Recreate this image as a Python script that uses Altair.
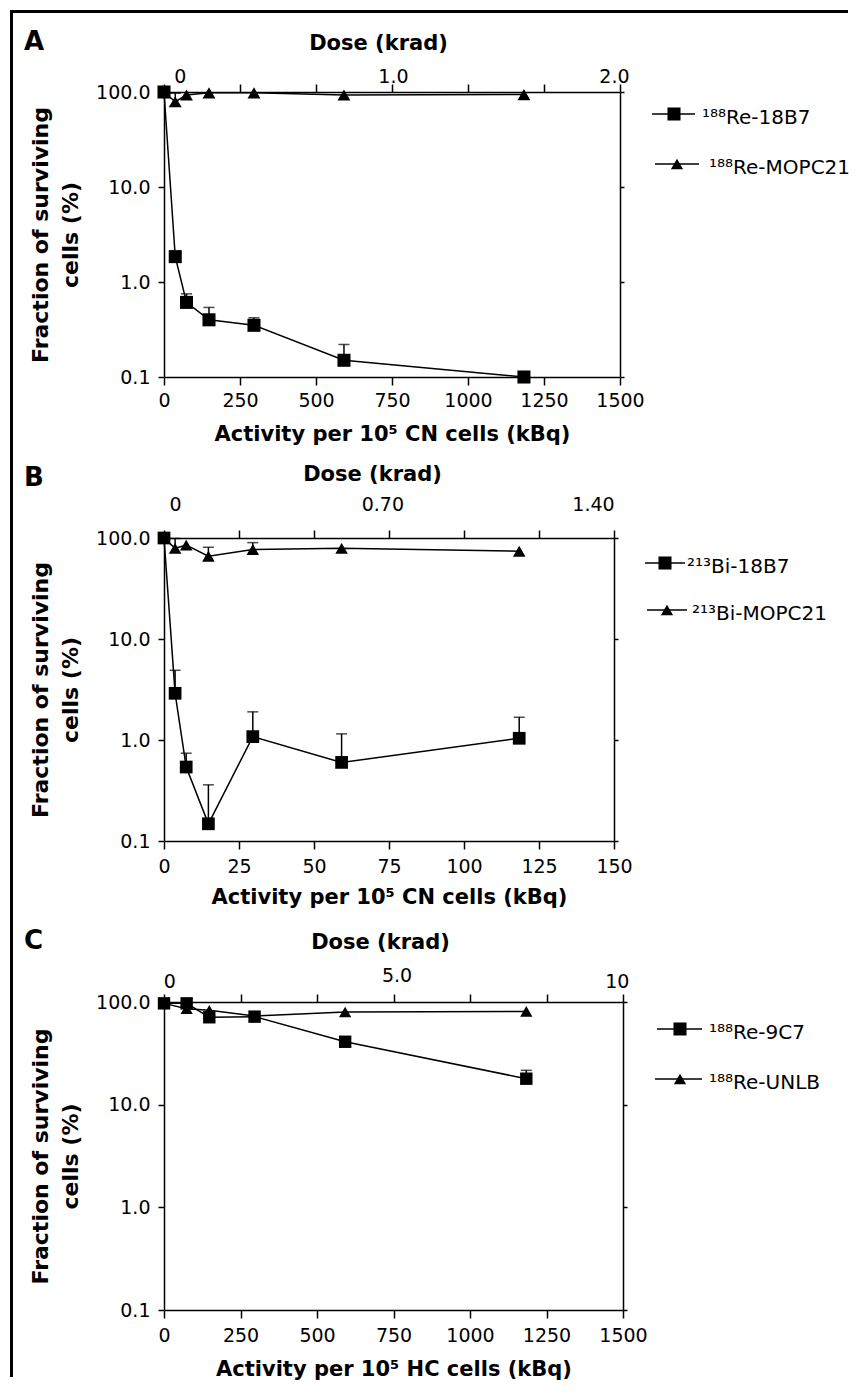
import json
import altair as alt
import pandas as pd

FONT = "DejaVu Sans"

# ---------------- data ----------------
Y_ticks = [0.1, 1, 10, 100]
Y_title = ["Fraction of surviving", "cells (%)"]
Dose_title = "Dose (krad)"

# Panel A
A_names = ["¹⁸⁸Re-18B7", "¹⁸⁸Re-MOPC21"]
A_x = [0, 37, 74, 148, 296, 592, 1184]
A_sq = [100, 1.85, 0.61, 0.40, 0.35, 0.15, 0.10]
A_sq_err = [None, None, 0.75, 0.54, 0.42, 0.22, None]
A_tri = [100, 79, 93, 98, 98, 93, 94]
A_tri_err = [None, 97, None, None, None, None, None]
A_xticks = [0, 250, 500, 750, 1000, 1250, 1500]
A_dose_pos = [52, 753, 1480]
A_dose_lab = ["0", "1.0", "2.0"]
A_xtitle = "Activity per 10⁵ CN cells (kBq)"

# Panel B
B_names = ["²¹³Bi-18B7", "²¹³Bi-MOPC21"]
B_x = [0, 3.7, 7.4, 14.8, 29.6, 59.2, 118.4]
B_sq = [100, 2.9, 0.54, 0.148, 1.08, 0.60, 1.04]
B_sq_err = [None, 4.9, 0.74, 0.36, 1.9, 1.15, 1.68]
B_tri = [100, 79, 85, 66, 77, 79, 74]
B_tri_err = [None, 99, None, 81, 90, None, None]
B_xticks = [0, 25, 50, 75, 100, 125, 150]
B_dose_pos = [3.7, 72.8, 143]
B_dose_lab = ["0", "0.70", "1.40"]
B_xtitle = "Activity per 10⁵ CN cells (kBq)"

# Panel C
C_names = ["¹⁸⁸Re-9C7", "¹⁸⁸Re-UNLB"]
C_x = [0, 74, 148, 296, 592, 1184]
C_sq = [97, 97, 71, 72, 41, 17.9]
C_sq_err = [None, None, None, None, None, 21.6]
C_tri = [97, 86, 83, 73, 80, 81]
C_tri_err = [None, None, None, None, None, None]
C_xticks = [0, 250, 500, 750, 1000, 1250, 1500]
C_dose_pos = [17, 760, 1480]
C_dose_lab = ["0", "5.0", "10"]
C_xtitle = "Activity per 10⁵ HC cells (kBq)"

# ---------------- layout (page pixels) ----------------
FX = 9.5    # left frame line
FY = 9.5    # top frame line
RIGHT = 846
L = 162     # common plot left edge
SPACING = 161

LAYOUT = {
    "A": dict(P=90, W=456, H=285, row=(8.0, 470), tpad=2, tty=-43, ttx=214,
              bpad=6, bty=63, letter=(22, 48),
              leg_y=[22, 72], leg_x=[(488, 531, 510, 538), (491, 535, 513, 545)], top=True),
    "B": dict(P=536, W=450, H=303, row=(440, 930), tpad=20, tty=-58, ttx=208,
              bpad=8, bty=62, letter=(22, 484),
              leg_y=[25, 72], leg_x=[(481, 521, 501, 523), (483, 523, 503, 528)], top=False),
    "C": dict(P=1000, W=459, H=308, row=(910, 1375), tpad=7, tty=-54, ttx=216,
              bpad=8, bty=65, letter=(22, 947),
              leg_y=[27, 77], leg_x=[(493, 538, 516, 545), (491, 538, 516, 545)], top=False),
}

SHAPES = ["square", "triangle-up"]
SIZES = [170, 150]


def make_panel(letter, names, xs, sq, sq_err, tri, tri_err, xmax, xticks,
               dose_pos, dose_lab, xtitle, raised=None):
    lay = LAYOUT[letter]
    P, W, H = lay["P"], lay["W"], lay["H"]
    rows = []
    for name, ys, errs in ((names[0], sq, sq_err), (names[1], tri, tri_err)):
        for x, y, e in zip(xs, ys, errs):
            rows.append({"series": name, "x": x, "y": y, "upper": e})
    df = pd.DataFrame(rows)
    err_df = df.dropna(subset=["upper"]).reset_index(drop=True)

    xsc = alt.Scale(domain=[0, xmax], nice=False, zero=False)
    ysc = alt.Scale(type="log", domain=[0.1, 100], nice=False)

    common = dict(grid=False, domainColor="black", domainWidth=1.5,
                  tickColor="black", tickWidth=1.5, labelColor="black",
                  labelFont=FONT, labelFontSize=19, titleFont=FONT,
                  titleColor="black", titleFontWeight="bold",
                  labelFlush=False, labelOverlap=False)

    bottom = alt.Axis(orient="bottom", values=xticks, format="d", title=xtitle,
                      tickSize=8, labelPadding=lay["bpad"], titleFontSize=21,
                      titleY=lay["bty"], titleBaseline="alphabetic", **common)
    left = alt.Axis(orient="left", values=Y_ticks, format=".1f", title=Y_title,
                    tickSize=6, labelPadding=8, titleFontSize=22,
                    titleAngle=270, titleX=FX + 18.5 - L, titleY=H / 2,
                    titleBaseline="top", titleAlign="center",
                    titleLineHeight=30, **common)
    lab_expr = "".join(f"datum.value == {p} ? '{t}' : " for p, t in zip(dose_pos, dose_lab)) + "''"
    if raised is None:
        tpad = lay["tpad"]
    else:
        tpad = {"condition": {"test": f"datum.value == {raised}", "value": lay["tpad"] + 6},
                "value": lay["tpad"]}
    top = alt.Axis(orient="top", values=list(xticks) + list(dose_pos),
                   labelExpr=lab_expr, title=Dose_title, tickSize=8,
                   labelPadding=tpad, labelBaseline="alphabetic",
                   tickOpacity={"condition": {"test": f"indexof({json.dumps(dose_pos)}, datum.value) >= 0",
                                              "value": 0}, "value": 1},
                   titleFontSize=21, titleY=lay["tty"], titleX=lay["ttx"],
                   titleBaseline="alphabetic", **common)
    right = alt.Axis(orient="right", values=Y_ticks, labels=False, title="",
                     tickSize=4, **common)

    base = alt.Chart(df)
    lines = base.mark_line(color="black", strokeWidth=1.5).encode(
        x=alt.X("x:Q", scale=xsc, axis=bottom),
        y=alt.Y("y:Q", scale=ysc, axis=left),
        detail="series:N",
    )
    ebars = alt.Chart(err_df).mark_rule(color="black", strokeWidth=1.5).encode(
        x=alt.X("x:Q", scale=xsc, axis=None),
        y=alt.Y("y:Q", scale=ysc, axis=None),
        y2="upper:Q",
    )
    caps = alt.Chart(err_df).mark_tick(color="black", orient="horizontal",
                                       size=11, thickness=1.5).encode(
        x=alt.X("x:Q", scale=xsc, axis=None),
        y=alt.Y("upper:Q", scale=ysc, axis=None),
    )
    pts = base.mark_point(filled=True, opacity=1, color="black").encode(
        x=alt.X("x:Q", scale=xsc, axis=top),
        y=alt.Y("y:Q", scale=ysc, axis=right),
        shape=alt.Shape("series:N", scale=alt.Scale(domain=names, range=SHAPES), legend=None),
        size=alt.Size("series:N", scale=alt.Scale(domain=names, range=SIZES), legend=None),
    )

    deco = pd.DataFrame({"k": [0]})
    layers = [lines, ebars, caps, pts]

    # legend
    for i, name in enumerate(names):
        ly = lay["leg_y"][i]
        x1, x2, sx, tx = lay["leg_x"][i]
        layers.append(alt.Chart(deco).mark_rule(color="black", strokeWidth=1.5).encode(
            x=alt.value(x1), x2=alt.value(x2), y=alt.value(ly)))
        layers.append(alt.Chart(deco).mark_point(shape=SHAPES[i], filled=True, size=SIZES[i],
                                                 color="black", opacity=1).encode(
            x=alt.value(sx), y=alt.value(ly)))
        layers.append(alt.Chart(deco).mark_text(text=name, font=FONT, fontSize=20, align="left",
                                                baseline="alphabetic", color="black").encode(
            x=alt.value(tx), y=alt.value(ly + 10)))

    # panel letter
    lx, lyy = lay["letter"]
    layers.append(alt.Chart(deco).mark_text(text=letter, font=FONT, fontSize=26, fontWeight="bold",
                                            align="left", baseline="alphabetic", color="black").encode(
        x=alt.value(lx - L), y=alt.value(lyy - P)))

    # figure frame
    r0, r1 = lay["row"]
    layers.append(alt.Chart(deco).mark_rule(color="black", strokeWidth=3).encode(
        x=alt.value(FX - L), y=alt.value(r0 - P), y2=alt.value(r1 - P)))
    if lay["top"]:
        layers.append(alt.Chart(deco).mark_rule(color="black", strokeWidth=3).encode(
            x=alt.value(FX - 1.5 - L), x2=alt.value(RIGHT - L), y=alt.value(FY - P)))

    return alt.layer(*layers).resolve_axis(x="independent", y="independent").properties(
        width=W, height=H)


pA = make_panel("A", A_names, A_x, A_sq, A_sq_err, A_tri, A_tri_err, 1500, A_xticks,
                A_dose_pos, A_dose_lab, A_xtitle)
pB = make_panel("B", B_names, B_x, B_sq, B_sq_err, B_tri, B_tri_err, 150, B_xticks,
                B_dose_pos, B_dose_lab, B_xtitle)
pC = make_panel("C", C_names, C_x, C_sq, C_sq_err, C_tri, C_tri_err, 1500, C_xticks,
                C_dose_pos, C_dose_lab, C_xtitle, raised=C_dose_pos[1])

chart = alt.vconcat(pA, pB, pC, spacing=SPACING, bounds="flush").properties(
    padding=0, background="white"
).configure_view(stroke=None).configure(font=FONT)

chart.save("out.html", embed_options={"renderer": "svg", "actions": False})
